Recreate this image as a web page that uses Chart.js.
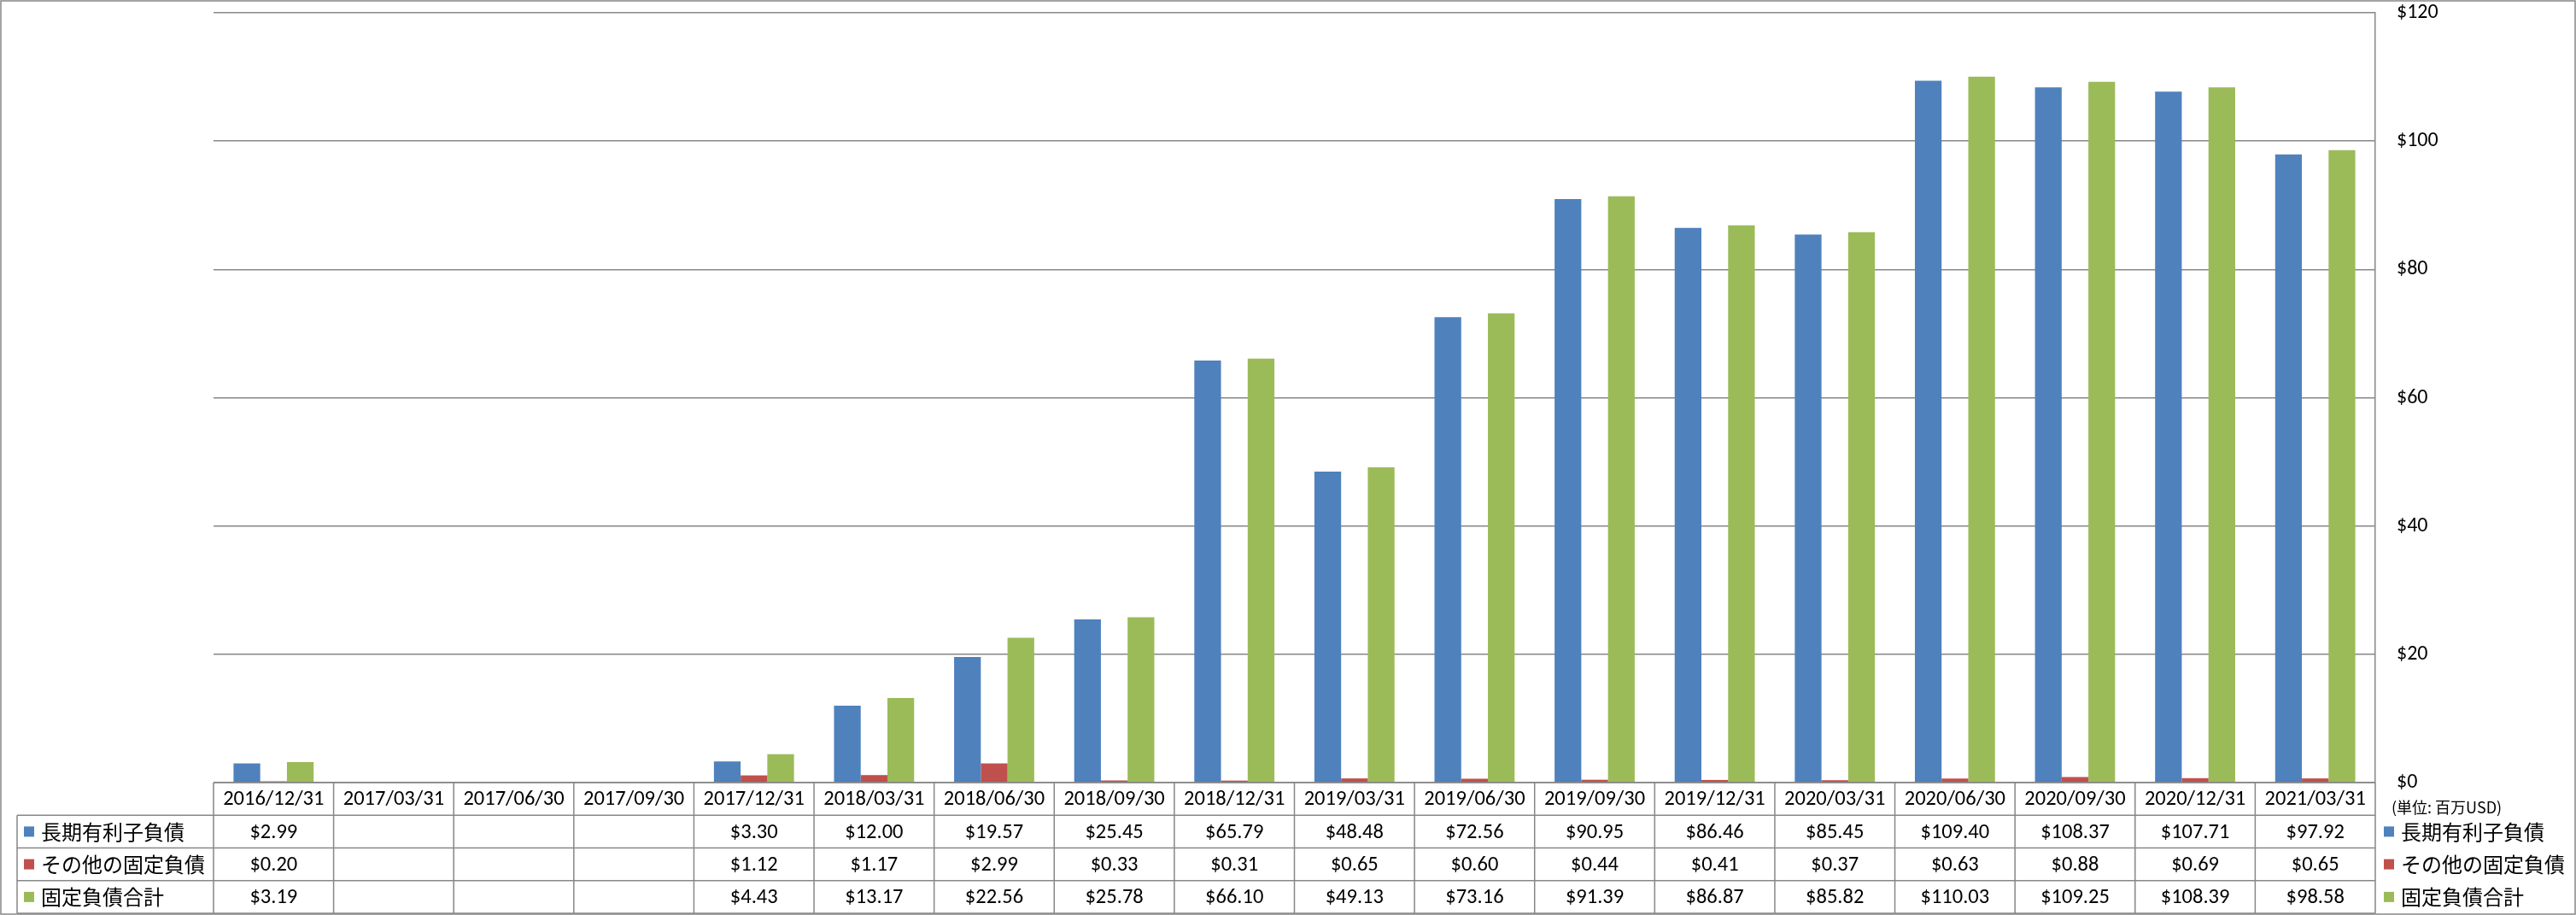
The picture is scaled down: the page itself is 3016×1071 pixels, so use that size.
<!DOCTYPE html>
<html>
<head>
<meta charset="utf-8">
<script src="https://cdn.jsdelivr.net/npm/chart.js@4/dist/chart.umd.min.js"></script>
<style>
html,body{margin:0;padding:0;background:#fff;}
#wrap{width:3016px;height:1071px;position:relative;}
</style>
</head>
<body>
<div id="wrap"><canvas id="c" width="3016" height="1071"></canvas></div>
<script>
const categories = ["2016/12/31","2017/03/31","2017/06/30","2017/09/30","2017/12/31","2018/03/31","2018/06/30","2018/09/30","2018/12/31","2019/03/31","2019/06/30","2019/09/30","2019/12/31","2020/03/31","2020/06/30","2020/09/30","2020/12/31","2021/03/31"];
const seriesNames = ["長期有利子負債","その他の固定負債","固定負債合計"];
const longTermDebt = [2.99,null,null,null,3.30,12.00,19.57,25.45,65.79,48.48,72.56,90.95,86.46,85.45,109.40,108.37,107.71,97.92];
const otherFixed = [0.20,null,null,null,1.12,1.17,2.99,0.33,0.31,0.65,0.60,0.44,0.41,0.37,0.63,0.88,0.69,0.65];
const totalFixed = [3.19,null,null,null,4.43,13.17,22.56,25.78,66.10,49.13,73.16,91.39,86.87,85.82,110.03,109.25,108.39,98.58];
const yTicks = [0,20,40,60,80,100,120];
const unitLabel = "(単位: 百万USD)";
const colors = ["#4F81BD","#C0504D","#9BBB59"];
const seriesData = [longTermDebt, otherFixed, totalFixed];

const GRID = "#878787";
const NUMFONT = "24.5px Carlito, 'Liberation Sans', 'Noto Sans CJK JP', sans-serif";
const JPFONT = "24px 'Noto Sans CJK JP', sans-serif";

const tablePlugin = {
  id: 'tablePlugin',
  afterDraw(chart) {
    const ctx = chart.ctx;
    const xs = chart.scales.x;
    const ca = chart.chartArea;
    const n = categories.length;
    const left = ca.left, right = ca.right;
    const cw = (right - left) / n;
    const top = ca.bottom;
    const rh = (1069 - top) / 4;
    const rows = [top, top + rh, top + 2*rh, top + 3*rh, top + 4*rh];
    const labelLeft = 20;
    ctx.save();
    ctx.strokeStyle = GRID;
    ctx.lineWidth = 1.5;
    ctx.strokeRect(1, 1, 3014, 1069);
    ctx.beginPath();
    ctx.moveTo(left, rows[0]); ctx.lineTo(right, rows[0]);
    for (let r = 1; r <= 4; r++) { ctx.moveTo(labelLeft, rows[r]); ctx.lineTo(right, rows[r]); }
    for (let i = 0; i <= n; i++) {
      const x = left + i * cw;
      ctx.moveTo(x, rows[0]); ctx.lineTo(x, rows[4]);
    }
    ctx.moveTo(labelLeft, rows[1]); ctx.lineTo(labelLeft, rows[4]);
    ctx.stroke();
    ctx.fillStyle = "#000";
    ctx.textAlign = "center";
    ctx.textBaseline = "middle";
    ctx.font = NUMFONT;
    for (let i = 0; i < n; i++) {
      const cx = xs.getPixelForValue(i);
      ctx.fillText(categories[i], cx, (rows[0] + rows[1]) / 2 + 1);
      for (let s = 0; s < 3; s++) {
        const v = seriesData[s][i];
        if (v !== null && v !== undefined) {
          ctx.fillText("$" + v.toFixed(2), cx, (rows[s+1] + rows[s+2]) / 2 + 1);
        }
      }
    }
    ctx.textAlign = "left";
    for (let s = 0; s < 3; s++) {
      const cy = (rows[s+1] + rows[s+2]) / 2;
      ctx.fillStyle = colors[s];
      ctx.fillRect(28, cy - 6, 12, 12);
      ctx.fillStyle = "#000";
      ctx.font = JPFONT;
      ctx.fillText(seriesNames[s], 48, cy);
    }
    for (let s = 0; s < 3; s++) {
      const cy = (rows[s+1] + rows[s+2]) / 2;
      ctx.fillStyle = colors[s];
      ctx.fillRect(2791, cy - 6, 12, 12);
      ctx.fillStyle = "#000";
      ctx.font = JPFONT;
      ctx.fillText(seriesNames[s], 2811, cy);
    }
    ctx.font = "18px 'Noto Sans CJK JP', sans-serif";
    ctx.fillStyle = "#000";
    ctx.fillText(unitLabel, 2800, 945);
    ctx.restore();
  }
};

new Chart(document.getElementById('c'), {
  type: 'bar',
  data: {
    labels: categories,
    datasets: seriesNames.map((name, i) => ({
      label: name,
      data: seriesData[i],
      backgroundColor: colors[i],
      borderWidth: 0,
      categoryPercentage: 0.667,
      barPercentage: 1.0
    }))
  },
  options: {
    responsive: false,
    devicePixelRatio: 1,
    animation: false,
    layout: { padding: { left: 250, top: 15, bottom: 155, right: 0 } },
    plugins: { legend: { display: false }, tooltip: { enabled: false } },
    scales: {
      x: { display: false },
      y: {
        position: 'right',
        min: 0, max: 120,
        afterBuildTicks(scale) { scale.ticks = yTicks.map(v => ({ value: v })); },
        afterFit(scale) { scale.width = 235; scale.paddingTop = 0; scale.paddingBottom = 0; },
        grid: { color: GRID, lineWidth: 1.5, drawTicks: false },
        border: { display: true, color: GRID, width: 1.5 },
        ticks: {
          padding: 25,
          color: "#000",
          font: { family: "Carlito, 'Liberation Sans', sans-serif", size: 24 },
          callback: v => "$" + v
        }
      }
    }
  },
  plugins: [tablePlugin]
});
</script>
</body>
</html>
